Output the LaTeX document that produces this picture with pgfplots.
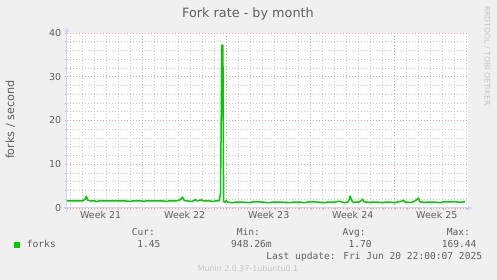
\documentclass[border=0pt]{standalone}
\usepackage{pgfplots}
\pgfplotsset{compat=1.18}
\usepackage{fontspec}
\setmainfont{DejaVu Sans}
\newfontfamily\monofont{DejaVu Sans Mono}
\usetikzlibrary{arrows.meta}
\definecolor{bgcol}{HTML}{F0F0F0}
\definecolor{fontcol}{HTML}{5F5F5F}
\definecolor{axiscol}{HTML}{CFD6F8}
\definecolor{gridcol}{HTML}{C8C8C8}
\definecolor{mgridcol}{HTML}{F09C9C}
\definecolor{lgreen}{HTML}{00CC00}
\definecolor{faint}{HTML}{C4C4C4}
\begin{document}
\begin{tikzpicture}
\useasboundingbox (0,0) rectangle (497pt,280pt);
\fill[bgcol] (0,0) rectangle (497pt,280pt);
\begin{axis}[
  at={(66.7pt,72pt)}, anchor=south west,
  scale only axis, width=401.3pt, height=175pt,
  xmin=0.667, xmax=34.1, ymin=0, ymax=40,
  axis background/.style={fill=white},
  axis x line=bottom, axis y line=left,
  x axis line style={draw=axiscol, line width=1pt, shorten <=-3pt, shorten >=-5pt, -{Latex[length=5pt,width=5pt]}},
  y axis line style={draw=axiscol, line width=1pt, shorten <=-3.7pt, shorten >=-6.3pt, -{Latex[length=5pt,width=5pt]}},
  xtick={7,14,21,28}, xticklabels={},
  minor xtick={1,2,...,34},
  ytick={0,10,20,30,40}, yticklabels={0,10,20,30,40},
  minor ytick={2,4,...,38},
  extra x ticks={3.5,10.5,17.5,24.5,31.5},
  extra x tick labels={Week 21,Week 22,Week 23,Week 24,Week 25},
  extra x tick style={grid=none, major tick length=0pt},
  grid=both,
  major grid style={draw=mgridcol, line width=0.7pt, dash pattern=on 1pt off 2pt},
  minor grid style={draw=gridcol, line width=0.7pt, dash pattern=on 1pt off 2pt},
  tick align=outside,
  major tick length=2pt, minor tick length=2pt,
  tick style={draw=gray!50, line width=0.5pt},
  ticklabel style={font=\fontsize{9.5}{11}\selectfont, text=fontcol},
  /pgf/number format/assume math mode=true,
  clip=false,
]
\addplot[color=lgreen, line width=1.5pt, line join=round, sharp plot] table {
x y
0.69 1.65
1.0 1.65
1.5 1.62
2.0 1.65
2.2 2.0
2.3 2.7
2.42 1.8
2.6 1.65
3.0 1.62
3.2 1.45
3.35 1.62
3.8 1.65
4.5 1.6
5.0 1.65
5.5 1.62
6.0 1.5
6.15 1.65
7.0 1.6
7.1 1.45
7.25 1.65
8.0 1.62
8.5 1.65
9.05 1.5
9.2 1.65
9.8 1.62
10.15 1.9
10.3 2.5
10.45 1.75
10.7 1.62
11.1 1.5
11.25 1.7
11.4 1.9
11.55 1.62
11.9 1.85
12.05 1.65
12.5 1.62
12.9 1.5
13.05 1.62
13.35 1.6
13.48 3.2
13.6 37.2
13.68 37.2
13.74 1.5
13.85 1.3
13.94 1.65
14.05 1.35
14.55 1.2
14.7 1.37
15.3 1.35
15.9 1.22
16.1 1.37
16.8 1.38
17.6 1.2
17.8 1.37
18.5 1.35
19.3 1.22
19.5 1.37
20.1 1.35
20.5 1.2
20.7 1.37
21.4 1.38
22.2 1.22
22.4 1.37
23.0 1.35
23.4 1.55
23.6 1.37
23.9 1.2
24.1 1.37
24.2 1.9
24.28 2.74
24.4 1.8
24.5 1.37
25.0 1.35
25.2 1.7
25.3 2.0
25.45 1.4
25.9 1.28
26.1 1.37
26.5 1.35
27.0 1.22
27.2 1.37
27.6 1.35
28.0 1.2
28.2 1.37
28.6 1.55
28.7 1.8
28.85 1.37
29.3 1.28
29.5 1.37
29.85 1.9
29.96 2.3
30.1 1.4
30.5 1.28
30.7 1.37
31.3 1.35
31.8 1.22
32.0 1.37
32.6 1.38
33.0 1.45
33.2 1.35
33.85 1.38
};
\end{axis}
% title and labels
\node[anchor=base, inner sep=0, text=fontcol, font=\fontsize{12.8}{14}\selectfont] at (248pt,262.5pt) {Fork rate - by month};
\node[rotate=90, inner sep=0, text=fontcol, font=\fontsize{11.2}{13}\selectfont] at (10.5pt,160.3pt) {forks / second};
\node[rotate=-90, inner sep=0, text=faint, font=\fontsize{7.7}{9}\selectfont] at (487pt,224.2pt) {RRDTOOL / TOBI OETIKER};
% legend
\begin{scope}[every node/.style={inner sep=0, text=fontcol, font=\monofont\fontsize{9.6}{11}\selectfont}]
\node[anchor=base west] at (131.7pt,44pt) {Cur:};
\node[anchor=base west] at (236.7pt,44pt) {Min:};
\node[anchor=base west] at (342.3pt,44pt) {Avg:};
\node[anchor=base west] at (446.7pt,44pt) {Max:};
\node[anchor=base west] at (26.7pt,32pt) {forks};
\node[anchor=base east] at (160.7pt,32pt) {1.45};
\node[anchor=base west] at (231pt,32pt) {948.26m};
\node[anchor=base west] at (348.3pt,32pt) {1.70};
\node[anchor=base east] at (476.7pt,32pt) {169.44};
\node[anchor=base east] at (482.3pt,20.3pt) {Last update: Fri Jun 20 22:00:07 2025};
\end{scope}
\fill[lgreen] (14pt,32.3pt) rectangle (20pt,38pt);
\node[anchor=base, inner sep=0, text=faint, font=\fontsize{7.9}{9}\selectfont] at (248pt,8.5pt) {Munin 2.0.37-1ubuntu0.1};
\end{tikzpicture}
\end{document}
